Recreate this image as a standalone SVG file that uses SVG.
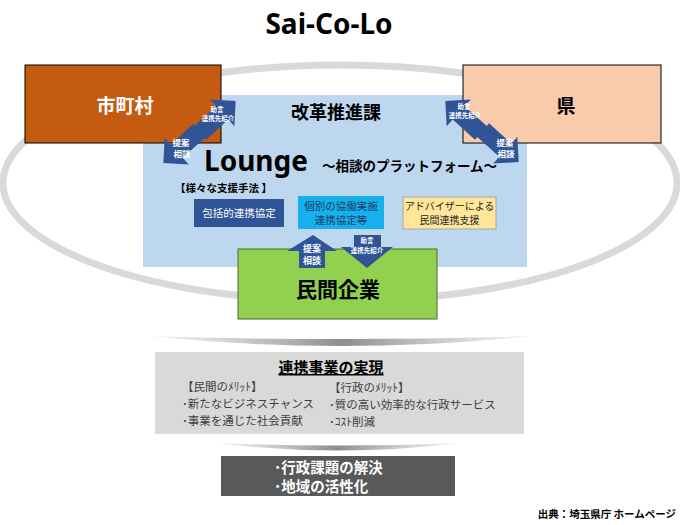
<svg xmlns="http://www.w3.org/2000/svg" width="680" height="525" viewBox="0 0 680 525">
<style>
  .jp{font-family:"Noto Sans CJK JP","Noto Sans",sans-serif}
  .b{font-weight:bold}
  .c{text-anchor:middle}
  .arr{fill:#2f5597}
  .at{fill:#fff;font-weight:bold;text-anchor:middle;font-family:"Noto Sans CJK JP",sans-serif}
  .li{fill:#404040;font-size:11.5px}
</style>
<defs>
  <path id="darr" d="M0,-9 H30 V-18 L48,0 L30,18 V9 H0 Z"/>
  <linearGradient id="sep" x1="0" y1="0" x2="1" y2="0">
    <stop offset="0" stop-color="#bfbfbf" stop-opacity="0.2"/>
    <stop offset="0.5" stop-color="#8c8c8c"/>
    <stop offset="1" stop-color="#bfbfbf" stop-opacity="0.2"/>
  </linearGradient>
</defs>
<rect width="680" height="525" fill="#fff"/>
<text x="329" y="34" class="b c" font-family="'Noto Sans','Open Sans',sans-serif" font-size="28" fill="#000">Sai-Co-Lo</text>

<ellipse cx="340" cy="183" rx="337" ry="118" fill="none" stroke="#d9d9d9" stroke-width="7"/>

<g id="lounge">
  <rect x="143" y="95" width="384" height="172" fill="#bdd7ee"/>
  <text x="336" y="119" class="jp b c" font-size="18">改革推進課</text>
  <text x="204" y="171" class="b" font-family="'Noto Sans','Open Sans',sans-serif" font-size="28">Lounge</text>
  <text x="322" y="171" class="jp b" font-size="13.5">～相談のプラットフォーム～</text>
  <text x="175" y="192" class="jp b" font-size="10.5">【様々な支援手法 】</text>
</g>
<g id="method1">
  <rect x="194" y="199" width="90" height="28" fill="#2f5597"/>
  <text x="239" y="217" class="jp c" font-size="10.5" fill="#fff">包括的連携協定</text>
</g>
<g id="method2">
  <rect x="298" y="196" width="86" height="33" fill="#14b1ec"/>
  <text x="341" y="210" class="jp c" font-size="10.5" fill="#1f3864">個別の協働実施</text>
  <text x="341" y="224" class="jp c" font-size="10.5" fill="#1f3864">連携協定等</text>
</g>
<g id="method3">
  <rect x="403" y="197" width="93" height="32" fill="#ffe699" stroke="#a6a6a6" stroke-width="1"/>
  <text x="449.5" y="210" class="jp c" font-size="10" fill="#262626">アドバイザーによる</text>
  <text x="449.5" y="224" class="jp c" font-size="10" fill="#262626">民間連携支援</text>
</g>

<g id="municipality">
  <rect x="25" y="65" width="196" height="78" fill="#c55a11" stroke="#000" stroke-width="1"/>
  <text x="125" y="113" class="jp b c" font-size="19" fill="#fff">市町村</text>
</g>
<g id="prefecture">
  <rect x="463" y="65" width="198" height="78" fill="#f8cbad" stroke="#000" stroke-width="1"/>
  <text x="566" y="113" class="jp b c" font-size="19" fill="#000">県</text>
</g>
<g id="company">
  <rect x="238" y="249" width="199" height="70" fill="#92d050" stroke="#4d6b2e" stroke-width="1"/>
  <text x="338" y="297" class="jp b c" font-size="21" fill="#000">民間企業</text>
</g>

<g id="connectors">
  <g id="left-arrows">
    <use href="#darr" class="arr" transform="translate(200,133) rotate(-42)"/>
    <use href="#darr" class="arr" transform="translate(199,131) rotate(138)"/>
    <text x="217" y="112" class="at" font-size="6.5">助言</text>
    <text x="218" y="121" class="at" font-size="6.5">連携先紹介</text>
    <text x="181" y="146" class="at" font-size="8.5">提案</text>
    <text x="182" y="157" class="at" font-size="8.5">相談</text>
  </g>
  <g id="right-arrows">
    <use href="#darr" class="arr" transform="translate(481,133) rotate(-138)"/>
    <use href="#darr" class="arr" transform="translate(483,130) rotate(42)"/>
    <text x="464" y="109" class="at" font-size="6.5">助言</text>
    <text x="465" y="118" class="at" font-size="6.5">連携先紹介</text>
    <text x="505" y="146" class="at" font-size="8.5">提案</text>
    <text x="506" y="157" class="at" font-size="8.5">相談</text>
  </g>
  <g id="bottom-arrows">
    <polygon class="arr" points="313,235 337,251 325,251 325,268 299,268 299,251 287,251"/>
    <text x="312" y="252" class="at" font-size="9">提案</text>
    <text x="312" y="264" class="at" font-size="9">相談</text>
    <polygon class="arr" points="354,235 381,235 381,247 393,247 367,268 341,247 354,247"/>
    <text x="367" y="243" class="at" font-size="6.5">助言</text>
    <text x="367" y="253" class="at" font-size="6.5">連携先紹介</text>
  </g>
</g>

<path d="M150,336 Q340,356 532,336 Q340,342 150,336 Z" fill="url(#sep)"/>

<g id="result">
  <rect x="155" y="352" width="369" height="82" fill="#d9d9d9"/>
  <text x="331" y="373" class="jp b c" font-size="15" text-decoration="underline" fill="#000">連携事業の実現</text>
  <text x="182" y="391" class="jp li">【民間のﾒﾘｯﾄ】</text>
  <text x="182" y="408" class="jp li">･新たなビジネスチャンス</text>
  <text x="182" y="425" class="jp li">･事業を通じた社会貢献</text>
  <text x="329" y="392" class="jp li">【行政のﾒﾘｯﾄ】</text>
  <text x="329" y="409" class="jp li">･質の高い効率的な行政サービス</text>
  <text x="329" y="426" class="jp li">･ｺｽﾄ削減</text>
</g>

<path d="M215,443 Q338,458 460,443 Q338,448 215,443 Z" fill="url(#sep)"/>

<g id="outcome">
  <rect x="221" y="456" width="234" height="40" fill="#595959"/>
  <text x="274" y="473" class="jp b" font-size="14.5" fill="#fff">･行政課題の解決</text>
  <text x="274" y="492" class="jp b" font-size="14.5" fill="#fff">･地域の活性化</text>
</g>

<text x="676" y="518" class="jp b" text-anchor="end" font-size="10.5" fill="#000">出典：埼玉県庁 ホームページ</text>
</svg>
